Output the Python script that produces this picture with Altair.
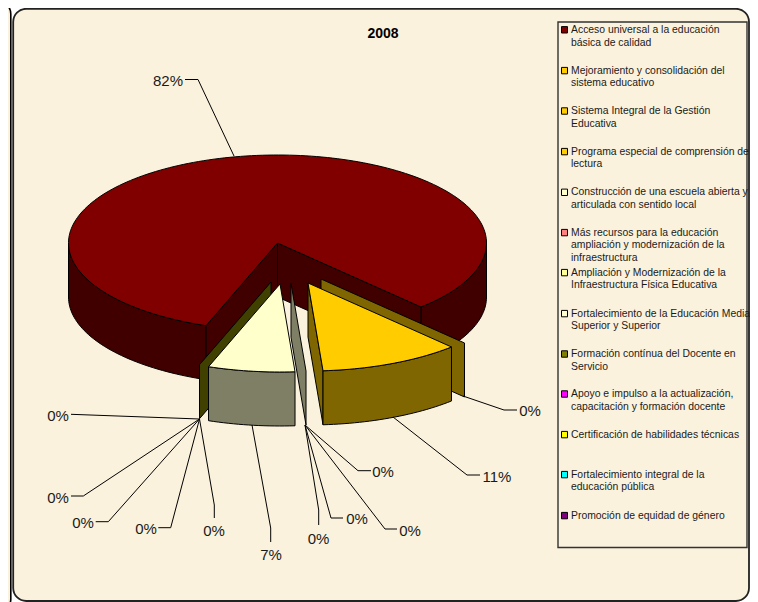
import math
import altair as alt
import pandas as pd

# ---- values
categories = [
    "Acceso universal a la educación básica de calidad",
    "Mejoramiento y consolidación del sistema educativo",
    "Sistema Integral de la Gestión Educativa",
    "Programa especial de comprensión de lectura",
    "Construcción de una escuela abierta y articulada con sentido local",
    "Más recursos para la educación ampliación y modernización de la infraestructura",
    "Ampliación y Modernización de la Infraestructura Física Educativa",
    "Fortalecimiento de la Educación Media Superior y Superior",
    "Formación contínua del Docente en Servicio",
    "Apoyo e impulso a la actualización, capacitación y formación docente",
    "Certificación de habilidades técnicas",
    "Fortalecimiento integral de la educación pública",
    "Promoción de equidad de género",
]
legend_lines = [
    ["Acceso universal a la educación", "básica de calidad"],
    ["Mejoramiento y consolidación del", "sistema educativo"],
    ["Sistema Integral de la Gestión", "Educativa"],
    ["Programa especial de comprensión de", "lectura"],
    ["Construcción de una escuela abierta y", "articulada con sentido local"],
    ["Más recursos para la educación", "ampliación y modernización de la", "infraestructura"],
    ["Ampliación y Modernización de la", "Infraestructura Física Educativa"],
    ["Fortalecimiento de la Educación Media", "Superior y Superior"],
    ["Formación contínua del Docente en", "Servicio"],
    ["Apoyo e impulso a la actualización,", "capacitación y formación docente"],
    ["Certificación de habilidades técnicas"],
    ["Fortalecimiento integral de la", "educación pública"],
    ["Promoción de equidad de género"],
]
shares = [82.4, 0.0, 10.9, 0.0, 0.0, 0.0, 0.0, 6.7, 0.0, 0.0, 0.0, 0.0, 0.0]
colors = ["#800000", "#FFCC00", "#FFCC00", "#FFCC00", "#FFFFCC", "#FF8080", "#FFFF99",
          "#FFFFCC", "#808000", "#FF00FF", "#FFFF00", "#00FFFF", "#800080"]

# ---- layout
CX, CY, RX, RY, DEPTH = 277.5, 243.0, 209.0, 88.0, 54.0
START = 110.0
legend_first_y = [29.8, 70.6, 111, 151.6, 192.3, 232.6, 272.6, 313.6, 354, 394, 434.6, 474.6, 515.6]
legend_line_gap = 12.7
label_pos = [(168, 80.5), (530, 410.5), (497, 476.5), (383, 471.5), (410, 530.5), (357, 518.5), (318.5, 538.5),
             (271, 554.5), (214, 530.5), (146, 528.5), (83, 522.5), (58, 497.5), (58, 415.5)]
leaders = [
    [(185, 79.5), (198, 79.5), (234, 156)],
    [(463, 396), (504, 410), (517, 410)],
    [(393, 417), (467, 475), (480, 475)],
    [(305, 425), (358, 470.7), (371, 470.7)],
    [(305, 425), (385, 529), (397, 529)],
    [(305, 425), (331, 518), (343, 518)],
    [(305, 425), (318.7, 510), (318.7, 525)],
    [(252, 425), (270.7, 528), (270.7, 542)],
    [(199.5, 419), (214.3, 505), (214.3, 518)],
    [(199.5, 419), (170.7, 527.7), (158.3, 527.7)],
    [(199.5, 419), (108.3, 521.7), (95.7, 521.7)],
    [(199.5, 419), (83.3, 496), (71, 496)],
    [(199.5, 419), (71, 414.3)],
]
PAPER = "#FBF2DD"

W, H = 742, 594
xs = alt.Scale(domain=[8, 750], range=[0, W], nice=False, zero=False)
ys = alt.Scale(domain=[602, 8], range=[H, 0], nice=False, zero=False)
X = alt.X("x:Q", scale=xs, axis=None)
Y = alt.Y("y:Q", scale=ys, axis=None)


def dark(c):
    return "#%02X%02X%02X" % tuple(int(c[i:i + 2], 16) // 2 for i in (1, 3, 5))


def arc(t0, t1, ox=0.0, oy=0.0, dz=0.0):
    n = max(2, int(abs(t1 - t0) / 1.5) + 2)
    out = []
    for k in range(n):
        t = math.radians(t0 + (t1 - t0) * k / (n - 1))
        out.append((CX + ox + RX * math.cos(t), CY + oy + RY * math.sin(t) + dz))
    return out


def poly(points, fill, sw=1.0):
    pts = list(points) + [points[0]]
    df = pd.DataFrame({"x": [p[0] for p in pts], "y": [p[1] for p in pts], "i": range(len(pts))})
    return alt.Chart(df).mark_line(fill=fill, stroke="black", strokeWidth=sw, strokeJoin="round",
                                   clip=True).encode(x=X, y=Y, order=alt.Order("i:Q"))


def top(t0, t1, ox, oy, fill):
    return poly([(CX + ox, CY + oy)] + arc(t0, t1, ox, oy), fill)


def outer(t0, t1, ox, oy, fill):
    return poly(arc(t0, t1, ox, oy) + arc(t1, t0, ox, oy, DEPTH), fill)


def radial(t, ox, oy, fill):
    a = arc(t, t, ox, oy)[0]
    return poly([(CX + ox, CY + oy), a, (a[0], a[1] + DEPTH), (CX + ox, CY + oy + DEPTH)], fill)


# cumulative angles from the shares
angles = []
acc = START
for s in shares:
    angles.append((acc, acc + s * 3.6))
    acc += s * 3.6

layers = []


def rect(x0, x1, y0, y1, **kw):
    df = pd.DataFrame({"x": [x0], "x2": [x1], "y": [y0], "y2": [y1]})
    return alt.Chart(df).mark_rect(**kw).encode(x=X, x2="x2:Q", y=Y, y2="y2:Q")


layers.append(rect(-20, 10.8, 1, 612, fill=PAPER, stroke="black", strokeWidth=1.6, cornerRadius=13))
layers.append(rect(13.2, 749, 8.8, 601, fill=PAPER, stroke="#222222", strokeWidth=1.8, cornerRadius=13))

# main slice
a0, a1 = angles[0]
red, red_d = colors[0], dark(colors[0])
layers += [outer(a0, 180, 0, 0, red_d), outer(360, a1, 0, 0, red_d),
           radial(a1, 0, 0, red_d), radial(a0, 0, 0, red_d), top(a0, a1, 0, 0, red)]

# zero-width wall behind the orange slice
layers.append(radial(angles[1][1], 43.5, 36, dark(colors[1])))
# olive zero wall on the left
layers.append(radial(angles[8][0], -6.5, 39, dark(colors[8])))
# thin wall between the two small slices
layers.append(radial(angles[4][0], 13.5, 40.3, dark(colors[4])))
# orange slice
s0, s1 = angles[2]
layers += [radial(s1, 30.5, 40, dark(colors[2])), outer(s0, s1, 30.5, 40, dark(colors[2])),
           top(s0, s1, 30.5, 40, colors[2])]
# pale slice
f0, f1 = angles[7]
layers += [outer(f0, f1, 2.5, 41, dark(colors[7])), top(f0, f1, 2.5, 41, colors[7])]

# leader lines
rows = []
for n, pts in enumerate(leaders):
    for i, (x, y) in enumerate(pts):
        rows.append({"n": n, "i": i, "x": x, "y": y})
layers.append(alt.Chart(pd.DataFrame(rows)).mark_line(color="black", strokeWidth=1).encode(
    x=X, y=Y, detail="n:N", order=alt.Order("i:Q")))

# value labels
labels = pd.DataFrame({
    "x": [p[0] for p in label_pos], "y": [p[1] for p in label_pos],
    "t": [f"{round(s)}%" for s in shares],
})
layers.append(alt.Chart(labels).mark_text(font="Liberation Sans", fontSize=15, color="#1a1a1a",
                                          align="center", baseline="middle").encode(x=X, y=Y, text="t:N"))

# title
layers.append(alt.Chart(pd.DataFrame({"x": [383], "y": [34], "t": ["2008"]})).mark_text(
    font="Liberation Sans", fontSize=14, fontWeight="bold", color="black", align="center",
    baseline="middle").encode(x=X, y=Y, text="t:N"))

# legend box, swatches, text
layers.append(rect(558, 747, 22, 547.5, fill=PAPER, fillOpacity=0, stroke="#333333", strokeWidth=1.4))
sw = pd.DataFrame({"x": [561.5] * 13, "x2": [567.5] * 13,
                   "y": [v - 3.2 for v in legend_first_y], "y2": [v + 3.2 for v in legend_first_y],
                   "c": colors, "cat": categories})
layers.append(alt.Chart(sw).mark_rect(stroke="black", strokeWidth=1).encode(
    x=X, x2="x2:Q", y=Y, y2="y2:Q", fill=alt.Fill("c:N", scale=None)))
rows = []
for y0, lines in zip(legend_first_y, legend_lines):
    for k, t in enumerate(lines):
        rows.append({"x": 571, "y": y0 + k * legend_line_gap, "t": t})
layers.append(alt.Chart(pd.DataFrame(rows)).mark_text(
    font="Liberation Sans", fontSize=10.4, color="#1a1a1a", align="left", baseline="middle").encode(
    x=X, y=Y, text="t:N"))

chart = alt.layer(*layers).properties(
    width=W, height=H, padding=0, autosize=alt.AutoSizeParams(type="none"), background="white",
).configure_view(stroke=None)
chart.save("out.html", embed_options={"renderer": "svg", "actions": False})
